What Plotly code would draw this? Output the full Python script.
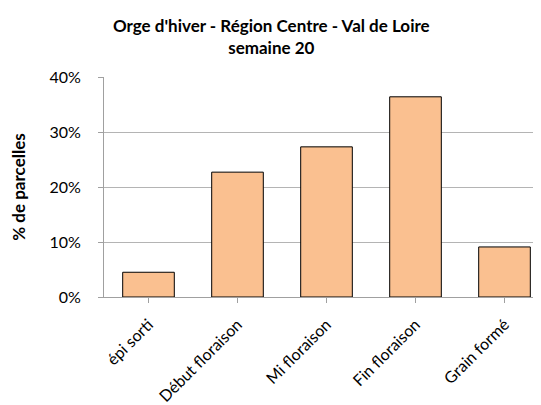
import plotly.graph_objects as go

# Data
stades = ["épi sorti", "Début floraison", "Mi floraison", "Fin floraison", "Grain formé"]
parcelles = [0.045, 0.227, 0.273, 0.364, 0.091]
y_ticks = [0, 0.1, 0.2, 0.3, 0.4]
y_tick_labels = ["0%", "10%", "20%", "30%", "40%"]

font_family = "Lato, Carlito, Calibri, sans-serif"

fig = go.Figure()
fig.add_trace(go.Bar(
    x=list(range(len(stades))),
    y=parcelles,
    width=0.58,
    marker=dict(color="#FAC090", line=dict(color="#000000", width=1)),
    hoverinfo="y",
))

# the page body adds an 8px offset, so sizes are trimmed by 8
fig.update_layout(
    width=533, height=397,
    margin=dict(l=96, r=0, t=69, b=108, autoexpand=False),
    paper_bgcolor="white",
    plot_bgcolor="white",
    font=dict(family=font_family, color="#000000"),
    title=dict(
        text="<b>Orge d'hiver - Région Centre - Val de Loire<br>semaine 20</b>",
        x=0.494, xanchor="center",
        y=0.94, yanchor="top",
        font=dict(size=17, family=font_family),
    ),
    showlegend=False,
)

fig.update_xaxes(
    range=[-0.5, 4.41],
    tickmode="array",
    tickvals=list(range(len(stades))),
    ticktext=stades,
    tickangle=-45,
    tickfont=dict(size=16),
    ticks="outside",
    tickson="boundaries",
    ticklen=5,
    ticklabelstandoff=6,
    tickcolor="#A0A0A0",
    showline=True,
    linecolor="#A0A0A0",
    linewidth=1,
    showgrid=False,
    automargin=False,
)

fig.update_yaxes(
    range=[0, 0.4],
    tickmode="array",
    tickvals=y_ticks,
    ticktext=y_tick_labels,
    tickfont=dict(size=16),
    ticks="outside",
    ticklen=5,
    ticklabelstandoff=14,
    tickcolor="#A0A0A0",
    showline=True,
    linecolor="#A0A0A0",
    linewidth=1,
    showgrid=True,
    gridcolor="#B4B4B4",
    gridwidth=1,
    zeroline=False,
    automargin=False,
    title=dict(text="<b>% de parcelles</b>", font=dict(size=17), standoff=20),
)

fig.write_html("out.html")
